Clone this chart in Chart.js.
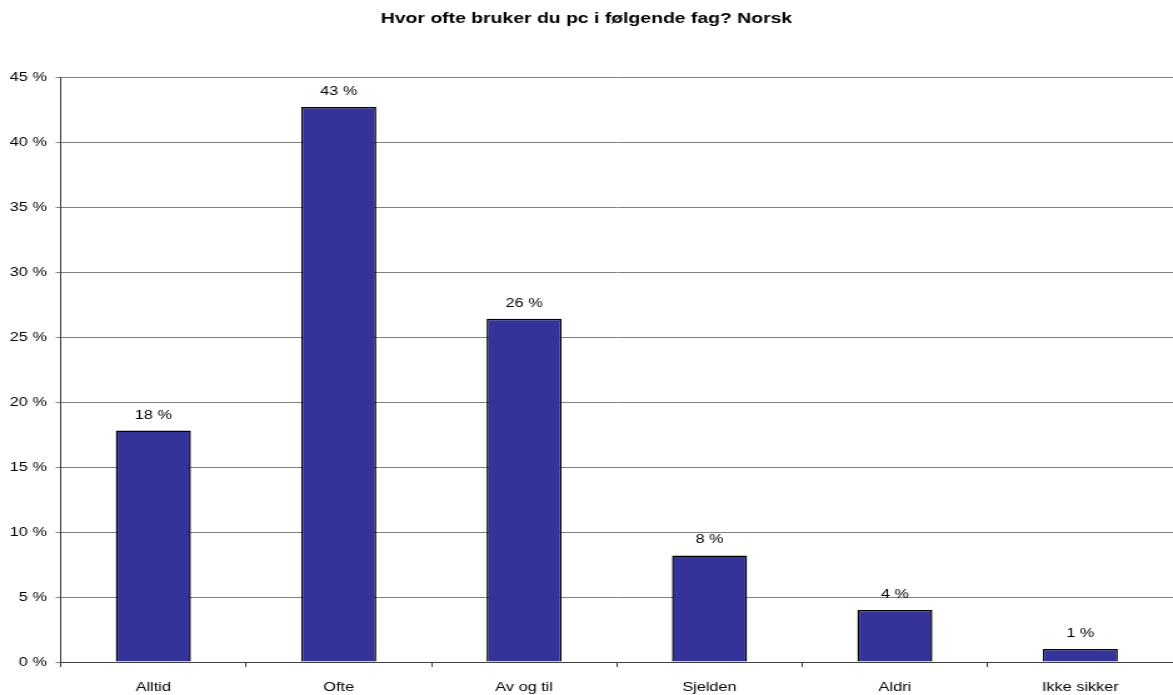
<!DOCTYPE html>
<html>
<head>
<meta charset="utf-8">
<script src="https://cdn.jsdelivr.net/npm/chart.js@4/dist/chart.umd.min.js"></script>
<style>
  html, body { margin: 0; padding: 0; background: #fff; overflow: hidden; }
  /* the original chart is rendered with horizontally stretched text */
  #wrap { width: 938px; height: 695px; transform: scaleX(1.2505); transform-origin: 0 0; }
</style>
</head>
<body>
<div id="wrap"><canvas id="chart" width="938" height="695"></canvas></div>
<script>
const titleText = "Hvor ofte bruker du pc i følgende fag? Norsk";
const categories = ["Alltid", "Ofte", "Av og til", "Sjelden", "Aldri", "Ikke sikker"];
const percentValues = [17.8, 42.7, 26.4, 8.2, 4.0, 1.0];

const fontFamily = '"Liberation Sans", Arial, sans-serif';

// labels above each bar
const barLabels = {
  id: 'barLabels',
  afterDatasetsDraw(chart) {
    const ctx = chart.ctx;
    const meta = chart.getDatasetMeta(0);
    ctx.save();
    ctx.font = '13px ' + fontFamily;
    ctx.fillStyle = '#000';
    ctx.textAlign = 'center';
    ctx.textBaseline = 'bottom';
    meta.data.forEach((bar, i) => {
      ctx.fillText(Math.round(percentValues[i]) + ' %', bar.x, bar.y - 9);
    });
    ctx.restore();
  }
};

new Chart(document.getElementById('chart'), {
  type: 'bar',
  data: {
    labels: categories,
    datasets: [{
      data: percentValues,
      backgroundColor: '#333399',
      borderColor: '#000000',
      borderWidth: 1.5,
      barPercentage: 0.405,
      categoryPercentage: 1
    }]
  },
  options: {
    responsive: false,
    animation: false,
    layout: { padding: 0 },
    plugins: {
      legend: { display: false },
      tooltip: { enabled: false },
      title: {
        display: true,
        text: titleText,
        color: '#000',
        font: { family: fontFamily, size: 15.5, weight: 'bold' },
        padding: { top: 9, bottom: 49.4 }
      }
    },
    scales: {
      x: {
        offset: true,
        grid: {
          offset: true,
          drawOnChartArea: false,
          drawTicks: true,
          tickLength: 5,
          color: '#404040'
        },
        border: { color: '#404040', width: 1 },
        ticks: {
          color: '#000',
          font: { family: fontFamily, size: 13 },
          padding: 13,
          maxRotation: 0
        },
        afterFit(scale) { scale.height = 33; }
      },
      y: {
        min: 0,
        max: 45,
        ticks: {
          stepSize: 5,
          color: '#000',
          font: { family: fontFamily, size: 13 },
          padding: 7,
          callback: v => v + ' %'
        },
        grid: { color: '#808080', lineWidth: 1, tickLength: 4 },
        border: { color: '#404040', width: 1 },
        afterFit(scale) { scale.width = 48.5; }
      }
    }
  },
  plugins: [barLabels]
});
</script>
</body>
</html>
